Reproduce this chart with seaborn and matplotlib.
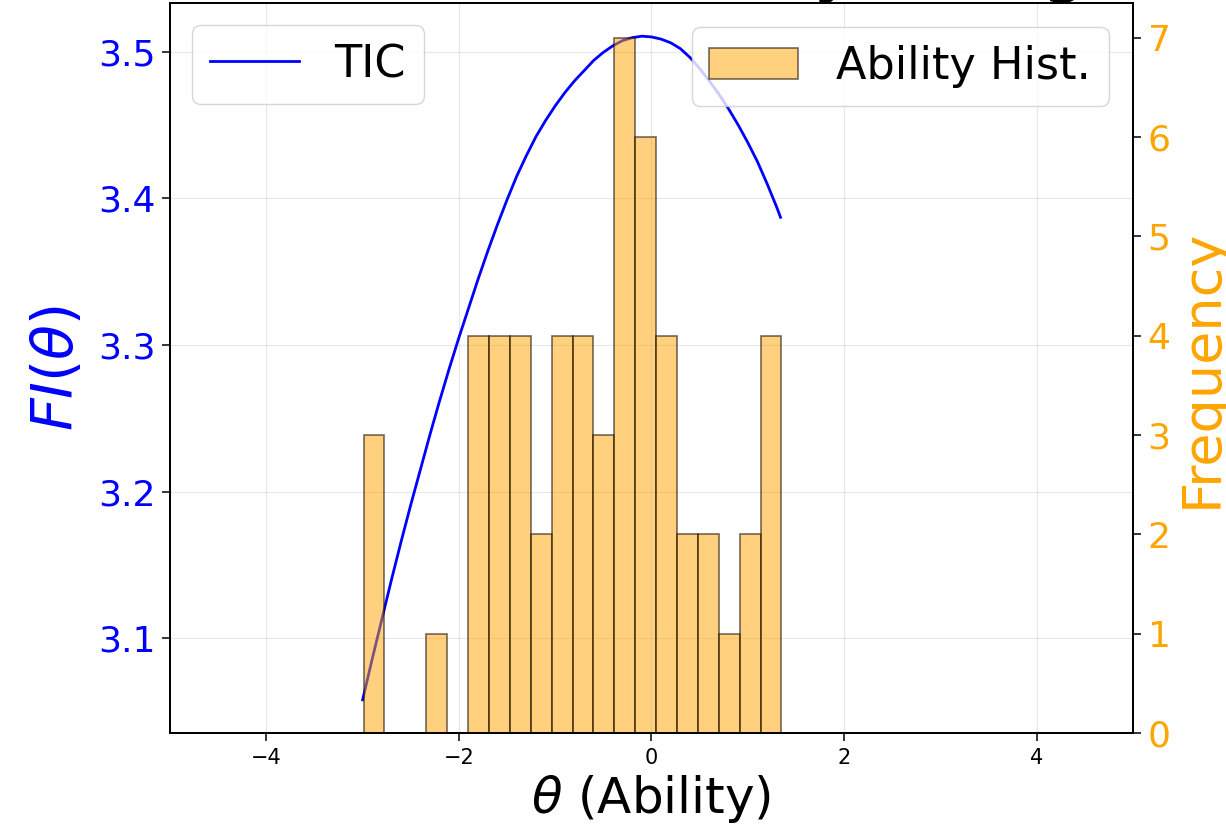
import numpy as np
import pandas as pd
import matplotlib
matplotlib.use("Agg")
import matplotlib.pyplot as plt
import seaborn as sns

# ---- data ----
theta_grid = [-3.0, -2.9, -2.8, -2.7, -2.6, -2.5, -2.4, -2.3, -2.2, -2.1,
              -2.0, -1.9, -1.8, -1.7, -1.6, -1.5, -1.4, -1.3, -1.2, -1.1,
              -1.0, -0.9, -0.8, -0.7, -0.6, -0.5, -0.4, -0.3, -0.2, -0.1,
              0.0, 0.1, 0.2, 0.3, 0.4, 0.5, 0.6, 0.7, 0.8, 0.9,
              1.0, 1.1, 1.2, 1.3, 1.34]
tic_values = [3.058, 3.086, 3.113, 3.140, 3.166, 3.191, 3.215, 3.239, 3.262, 3.284,
              3.305, 3.325, 3.345, 3.364, 3.382, 3.399, 3.415, 3.429, 3.442, 3.453,
              3.463, 3.472, 3.480, 3.487, 3.494, 3.4995, 3.504, 3.5075, 3.5095, 3.5105,
              3.510, 3.5085, 3.506, 3.502, 3.496, 3.4885, 3.480, 3.471, 3.461, 3.450,
              3.438, 3.425, 3.410, 3.394, 3.387]

ability_min = -2.99
ability_max = 1.35
hist_counts = [3, 0, 0, 1, 0, 4, 4, 4, 2, 4, 4, 3, 7, 6, 4, 2, 2, 1, 2, 4]

x_ticks = [-4, -2, 0, 2, 4]
left_ticks = [3.1, 3.2, 3.3, 3.4, 3.5]
right_ticks = [0, 1, 2, 3, 4, 5, 6, 7]

title_text = "Information and Ability Histogram"

# ---- derived tables ----
n_bins = len(hist_counts)
edges = np.linspace(ability_min, ability_max, n_bins + 1)
centers = (edges[:-1] + edges[1:]) / 2
tic_df = pd.DataFrame({"theta": theta_grid, "info": tic_values})
hist_df = pd.DataFrame({"theta": centers, "count": hist_counts})

plt.rcParams["axes.linewidth"] = 1.3

fig = plt.figure(figsize=(12.26, 8.36), dpi=100)
ax1 = fig.add_axes([0.1387, 0.1232, 0.7854, 0.8732])

sns.lineplot(data=tic_df, x="theta", y="info", ax=ax1, color="blue",
             linewidth=2, label="TIC", sort=True)
ax1.set_xlim(-5, 5)
ax1.set_xticks(x_ticks)
ax1.set_yticks(left_ticks)
ax1.grid(True, alpha=0.3)
ax1.tick_params(axis="both", length=6, width=1.1, pad=4.5)
ax1.tick_params(axis="x", labelsize=15)
ax1.tick_params(axis="y", labelsize=26, labelcolor="blue")
ax1.set_xlabel(r"$\theta$ (Ability)", fontsize=36)
ax1.set_ylabel(r"$FI(\theta)$", fontsize=41, color="blue", labelpad=9)
ax1.set_title(title_text, fontsize=42, fontweight="bold")
ax1.legend(loc="upper left", fontsize=32)

ax2 = ax1.twinx()
sns.histplot(data=hist_df, x="theta", weights="count", bins=n_bins,
             binrange=(ability_min, ability_max), ax=ax2,
             color="orange", alpha=0.5, edgecolor=(0.1, 0.05, 0, 0.6),
             linewidth=1.2, label="Ability Hist.")
ax2.set_yticks(right_ticks)
ax2.tick_params(axis="y", length=6, width=1.1, pad=4.5, labelsize=26,
                labelcolor="orange")
ax2.set_ylabel("Frequency", fontsize=39, color="orange")
ax2.set_xlim(-5, 5)
ax2.legend(loc="upper right", fontsize=32, handletextpad=0.85,
           borderaxespad=0.55)

fig.savefig("out.png", dpi=100)
